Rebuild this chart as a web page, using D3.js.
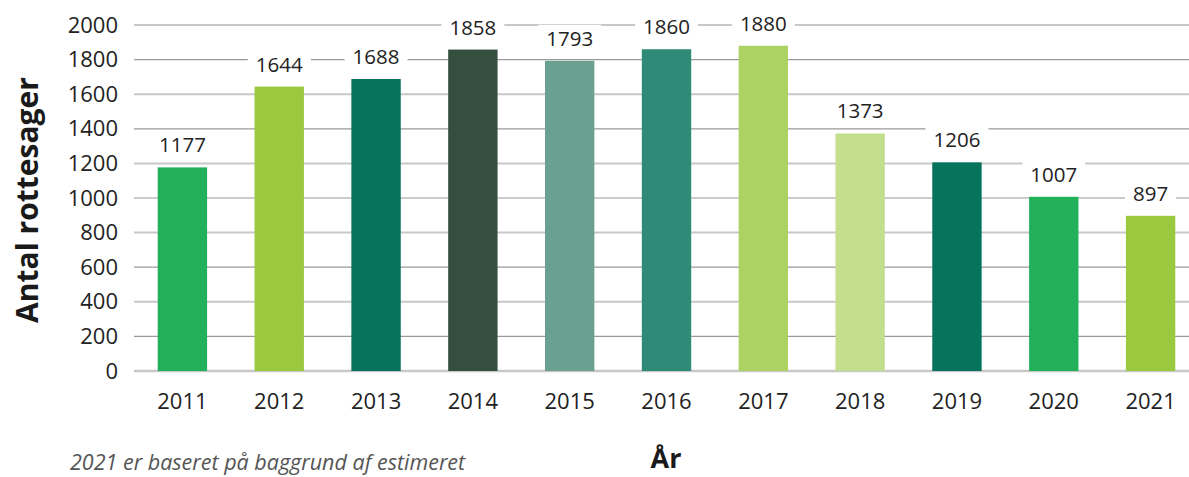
<!DOCTYPE html>
<html>
<head>
<meta charset="utf-8" />
<title>Antal rottesager</title>
<script src="https://d3js.org/d3.v7.min.js"></script>
<style>
    body { margin: 0; background: #fff; }
    text { font-family: "Open Sans", "Noto Sans", sans-serif; }
</style>
</head>
<body>
<div id="chart"></div>
<script>
    // data
    const years = ["2011", "2012", "2013", "2014", "2015", "2016", "2017", "2018", "2019", "2020", "2021"];
    const cases = [1177, 1644, 1688, 1858, 1793, 1860, 1880, 1373, 1206, 1007, 897];
    const barColors = ["#22b15a", "#9ac83f", "#08735c", "#344f3e", "#6aa090", "#2f8a77",
                       "#acd264", "#c3de8c", "#08735c", "#22b15a", "#9ac83f"];
    const yTicks = [0, 200, 400, 600, 800, 1000, 1200, 1400, 1600, 1800, 2000];

    const W = 1189, H = 477;
    const plotLeft = 134, plotTop = 25, plotBottom = 371;

    const svg = d3.select("#chart").append("svg")
        .attr("width", W).attr("height", H);

    const x = d3.scaleBand()
        .domain(years)
        .range([plotLeft, 1199])
        .paddingInner(0.49)
        .paddingOuter(0.245);

    const y = d3.scaleLinear()
        .domain([0, 2000])
        .range([plotBottom, plotTop]);

    // gridlines
    svg.append("g")
        .selectAll("line")
        .data(yTicks)
        .join("line")
        .attr("x1", plotLeft)
        .attr("x2", W)
        .attr("y1", d => y(d))
        .attr("y2", d => y(d))
        .attr("stroke", (d, i) => i % 2 ? "#9a9a9a" : "#c8c8c8")
        .attr("stroke-width", (d, i) => d === 0 ? 2.5 : (i % 2 ? 1.2 : 2));

    // y axis labels
    const yAxis = svg.append("g")
        .attr("transform", `translate(${plotLeft - 16},0)`)
        .call(d3.axisLeft(y).tickValues(yTicks).tickFormat(d3.format("d")).tickSize(0).tickPadding(0));
    yAxis.select(".domain").remove();
    yAxis.selectAll("text")
        .attr("font-size", 22)
        .attr("fill", "#222")
        .attr("font-family", "Open Sans, sans-serif");

    // bars
    svg.append("g")
        .selectAll("rect")
        .data(years)
        .join("rect")
        .attr("x", d => x(d))
        .attr("width", x.bandwidth())
        .attr("y", (d, i) => y(cases[i]))
        .attr("height", (d, i) => plotBottom - y(cases[i]))
        .attr("fill", (d, i) => barColors[i]);

    // value labels with white boxes
    const labels = svg.append("g")
        .selectAll("g")
        .data(years)
        .join("g")
        .attr("transform", (d, i) => `translate(${x(d) + x.bandwidth() / 2},${y(cases[i]) - 15})`);
    labels.append("rect")
        .attr("x", -38)
        .attr("y", -21)
        .attr("width", 76)
        .attr("height", 27)
        .attr("fill", "#fff");
    labels.append("text")
        .attr("text-anchor", "middle")
        .attr("font-size", 20.5)
        .attr("fill", "#222")
        .text((d, i) => cases[i]);
    labels.each(function () {
        const t = d3.select(this).select("text").node().getBBox();
        d3.select(this).select("rect")
            .attr("x", t.x - 8).attr("width", t.width + 16);
    });

    // x axis labels
    const xAxis = svg.append("g")
        .attr("transform", `translate(0,${plotBottom + 21})`)
        .call(d3.axisBottom(x).tickSize(0).tickPadding(0));
    xAxis.select(".domain").remove();
    xAxis.selectAll("text")
        .attr("font-size", 22)
        .attr("fill", "#222")
        .attr("dy", "0.75em")
        .attr("font-family", "Open Sans, sans-serif");

    // titles
    svg.append("text")
        .attr("transform", "translate(38,200) rotate(-90)")
        .attr("text-anchor", "middle")
        .attr("font-size", 30)
        .attr("font-weight", "bold")
        .attr("fill", "#1a1a1a")
        .text("Antal rottesager");

    svg.append("text")
        .attr("x", 666)
        .attr("y", 468)
        .attr("text-anchor", "middle")
        .attr("font-size", 27)
        .attr("font-weight", "bold")
        .attr("fill", "#1a1a1a")
        .text("År");

    svg.append("text")
        .attr("x", 70)
        .attr("y", 470)
        .attr("font-size", 21.5)
        .attr("font-style", "italic")
        .attr("fill", "#555")
        .text("2021 er baseret på baggrund af estimeret");
</script>
</body>
</html>
